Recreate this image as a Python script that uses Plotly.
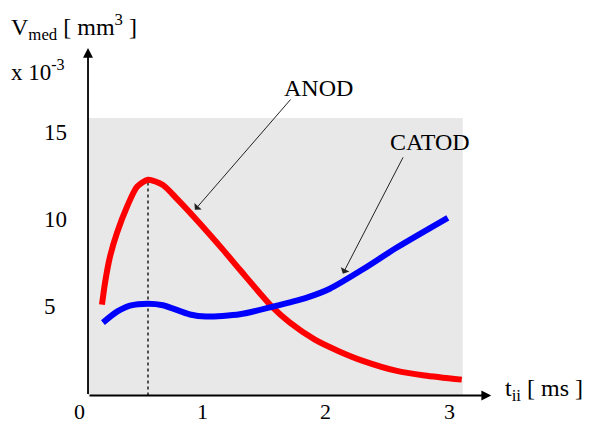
import numpy as np
import plotly.graph_objects as go

# Anode wear volume vs. pulse duration
t_anod = [0.186, 0.211, 0.251, 0.308, 0.389, 0.470, 0.559, 0.680, 0.794, 0.939,
          1.166, 1.304, 1.563, 1.709, 1.911, 2.113, 2.300, 2.575, 2.800, 3.101]
v_anod = [5.11, 6.38, 7.87, 9.25, 10.75, 11.90, 12.30, 12.00, 11.20, 10.10,
          8.28, 7.12, 5.00, 4.08, 3.10, 2.41, 1.88, 1.30, 1.04, 0.80]

# Cathode wear volume vs. pulse duration
t_catod = [0.194, 0.308, 0.413, 0.559, 0.680, 0.899, 1.030, 1.304, 1.571, 1.846,
           2.032, 2.300, 2.575, 2.988]
v_catod = [4.08, 4.71, 5.06, 5.17, 5.08, 4.55, 4.43, 4.56, 5.00, 5.52,
           6.03, 7.15, 8.40, 10.11]

x_ticks = [0, 1, 2, 3]
x_tick_text = ["0", "1", "2", "3"]
y_ticks = [5, 10, 15]
y_tick_text = ["5", "10", "15"]

FONT = "Liberation Serif, Times New Roman, serif"

# axis extents (data units)
X0, X_END = 0.073, 3.34
Y0, Y_END = -0.115, 19.89
BG_X1, BG_Y1 = 3.109, 15.86

# layout geometry
L, R, T, B = 79, 78.75, 46, 29.5
W, H = 590, 427
PW, PH = W - L - R, H - T - B

def px_to_paper_x(px):
    return (px - L) / PW

def px_to_paper_y(py):
    return (H - B - py) / PH

fig = go.Figure()

i_peak = int(np.argmax(v_anod))
fig.add_trace(go.Scatter(
    x=[t_anod[i_peak], t_anod[i_peak]], y=[Y0, v_anod[i_peak]],
    mode="lines", line=dict(color="black", width=1.3, dash="dot"),
    hoverinfo="skip", showlegend=False))

fig.add_trace(go.Scatter(
    x=t_anod, y=v_anod, mode="lines", name="ANOD",
    line=dict(color="#ff0000", width=6, shape="spline", smoothing=0.7),
    showlegend=False))
fig.add_trace(go.Scatter(
    x=t_catod, y=v_catod, mode="lines", name="CATOD",
    line=dict(color="#0000ff", width=6, shape="spline", smoothing=0.7),
    showlegend=False))

fig.add_shape(type="rect", xref="x", yref="y", x0=X0, x1=BG_X1, y0=Y0, y1=BG_Y1,
              fillcolor="#e8e8e8", line=dict(width=0), layer="below")

annotations = []

# axes with arrowheads
annotations.append(dict(xref="x", yref="y", axref="x", ayref="y",
                        x=X0, y=Y_END, ax=X0, ay=Y0, text="",
                        showarrow=True, arrowhead=2, arrowsize=1.1,
                        arrowwidth=1.8, arrowcolor="black"))
annotations.append(dict(xref="x", yref="y", axref="x", ayref="y",
                        x=X_END, y=Y0, ax=X0, ay=Y0, text="",
                        showarrow=True, arrowhead=2, arrowsize=1.1,
                        arrowwidth=1.8, arrowcolor="black"))

# pointer arrows to curves
annotations.append(dict(xref="x", yref="y", axref="x", ayref="y",
                        x=0.939, y=10.57, ax=1.725, ay=17.01, text="",
                        showarrow=True, arrowhead=1, arrowsize=1.6,
                        arrowwidth=1, arrowcolor="#222222"))
annotations.append(dict(xref="x", yref="y", axref="x", ayref="y",
                        x=2.138, y=6.90, ax=2.632, ay=13.68, text="",
                        showarrow=True, arrowhead=1, arrowsize=1.6,
                        arrowwidth=1, arrowcolor="#222222"))

annotations.append(dict(xref="x", yref="y", x=1.943, y=17.59, text="ANOD",
                        showarrow=False, font=dict(family=FONT, size=24, color="black")))
annotations.append(dict(xref="x", yref="y", x=2.842, y=14.48, text="CATOD",
                        showarrow=False, font=dict(family=FONT, size=24, color="black")))

# y tick labels, left aligned
for v, s in zip(y_ticks, y_tick_text):
    annotations.append(dict(xref="paper", yref="y", x=px_to_paper_x(42), y=v,
                            xanchor="left", yanchor="middle", text=s, showarrow=False,
                            font=dict(family=FONT, size=23, color="black")))

# x tick labels below the axis
for t, s in zip(x_ticks, x_tick_text):
    annotations.append(dict(xref="x", yref="paper", x=t, y=px_to_paper_y(426),
                            xanchor="center", yanchor="bottom", text=s, showarrow=False,
                            borderpad=0,
                            font=dict(family=FONT, size=22, color="black")))

# axis titles
annotations.append(dict(xref="paper", yref="paper", x=px_to_paper_x(9),
                        y=px_to_paper_y(27), xanchor="left", yanchor="middle",
                        text="V<sub>med</sub> [ mm<sup>3</sup> ]", showarrow=False,
                        font=dict(family=FONT, size=24, color="black")))
annotations.append(dict(xref="paper", yref="paper", x=px_to_paper_x(9),
                        y=px_to_paper_y(71), xanchor="left", yanchor="middle",
                        text="x 10<sup>-3</sup>", showarrow=False,
                        font=dict(family=FONT, size=23, color="black")))
annotations.append(dict(xref="paper", yref="paper", x=px_to_paper_x(503),
                        y=px_to_paper_y(390), xanchor="left", yanchor="middle",
                        text="t<sub>ii</sub> [ ms ]", showarrow=False,
                        font=dict(family=FONT, size=24, color="black")))

fig.update_layout(
    width=W, height=H,
    margin=dict(l=L, r=R, t=T, b=B, pad=0, autoexpand=False),
    paper_bgcolor="white", plot_bgcolor="white",
    annotations=annotations,
    xaxis=dict(range=[0, 3.5], showgrid=False, zeroline=False, showline=False,
               showticklabels=False, ticks="", automargin=False, fixedrange=True),
    yaxis=dict(range=[-0.2, 20], showgrid=False, zeroline=False, showline=False,
               showticklabels=False, ticks="", automargin=False, fixedrange=True),
)

fig.write_html("out.html")
